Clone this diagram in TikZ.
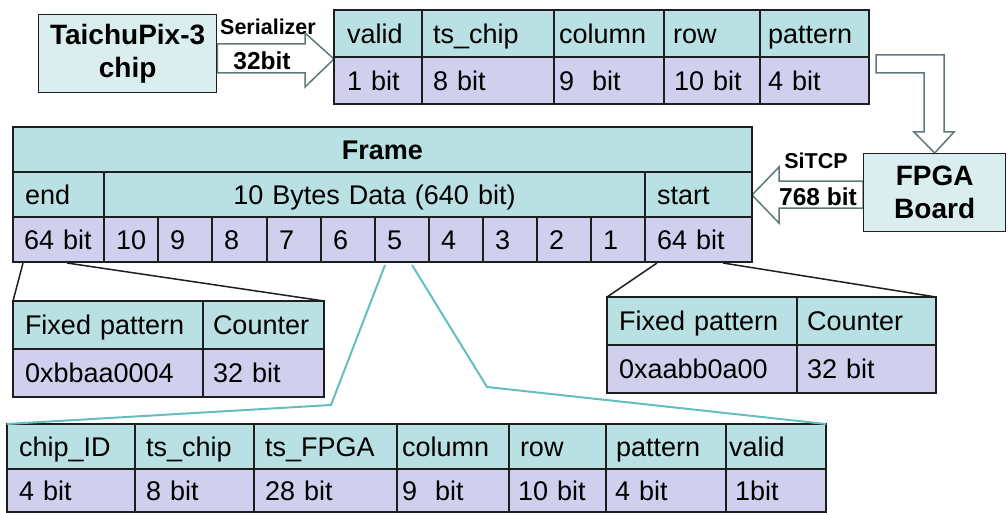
\documentclass[tikz,border=0pt]{standalone}
\usepackage{fontspec}
\setmainfont{Liberation Sans}
\usetikzlibrary{calc,backgrounds}
\definecolor{hdr}{RGB}{185,224,226}
\definecolor{lav}{RGB}{208,208,238}
\definecolor{boxfill}{RGB}{218,238,240}
\definecolor{arrowgray}{RGB}{95,120,120}
\definecolor{tealline}{RGB}{100,190,192}
\definecolor{bord}{RGB}{30,30,30}
\newcommand\cellfont{\fontsize{27}{31}\selectfont}
\newcommand\tcell[8]{%
  \pgfmathsetmacro\cellw{#4-#2}%
  \pgfmathsetmacro\cellh{#5-#3}%
  \pgfmathsetmacro\celltw{#4-#2-2*#7}%
  \node[cellbox, #6, minimum width=\cellw pt, minimum height=\cellh pt,
        text width=\celltw pt, inner xsep=#7pt] (#1) at (#2,#3) {#8};}
\begin{document}
\begin{tikzpicture}[x=1pt,y=-1pt,
  cellbox/.style={draw=bord, line width=1.3pt, anchor=north west, inner ysep=0pt,
     outer sep=0pt, align=left, font=\cellfont, text height=24pt, text depth=4.6pt},
  hd/.style={fill=hdr},
  lv/.style={fill=lav},
  bigbox/.style={draw=bord, line width=1.3pt, fill=boxfill, anchor=north west,
     align=center, inner sep=0pt, font=\fontsize{28}{33}\selectfont\bfseries},
  blockarr/.style={draw=arrowgray, line width=1.5pt, fill=white, line join=miter},
  lbl/.style={anchor=base, inner sep=0pt, font=\fontsize{21.5}{24}\selectfont\bfseries},
  lblb/.style={anchor=base, inner sep=0pt, font=\fontsize{24.5}{28}\selectfont\bfseries},
  zoomline/.style={draw=bord, line width=1.5pt},
  tealzoom/.style={draw=tealline, line width=2pt}]
\useasboundingbox (0,0) rectangle (1008,513);

% boxes
\node[bigbox, minimum width=178pt, minimum height=78pt] (chip) at (38,14) {TaichuPix-3\\chip};
\node[bigbox, minimum width=142pt, minimum height=78pt] (fpga) at (863,153) {FPGA\\Board};

% top table
\tcell{tv}{334}{10}{422}{57}{hd}{13}{valid}
\tcell{tts}{422}{10}{554}{57}{hd}{11}{ts\_chip}
\tcell{tcol}{554}{10}{664}{57}{hd}{5}{column}
\tcell{trow}{664}{10}{760}{57}{hd}{9}{row}
\tcell{tpat}{760}{10}{869}{57}{hd}{8}{pattern}
\tcell{tv1}{334}{57}{422}{104}{lv}{13}{1~bit}
\tcell{tts1}{422}{57}{554}{104}{lv}{11}{8~bit}
\tcell{tcol1}{554}{57}{664}{104}{lv}{5}{9\ \ bit}
\tcell{trow1}{664}{57}{760}{104}{lv}{10}{10~bit}
\tcell{tpat1}{760}{57}{869}{104}{lv}{8}{4~bit}

% frame table
\tcell{fr}{13}{127}{752}{172}{hd,align=center,font=\cellfont\bfseries}{12}{Frame}
\tcell{endh}{13}{172}{104}{217}{hd}{12}{end}
\tcell{data}{104}{172}{645}{217}{hd,align=center}{12}{10 Bytes Data (640 bit)}
\tcell{starth}{645}{172}{752}{217}{hd}{12}{start}
\tcell{e64}{13}{217}{104}{262}{lv}{11}{64~bit}
\tcell{d10}{104}{217}{158}{262}{lv}{12}{10}
\tcell{d9}{158}{217}{212}{262}{lv}{12}{9}
\tcell{d8}{212}{217}{267}{262}{lv}{12}{8}
\tcell{d7}{267}{217}{321}{262}{lv}{12}{7}
\tcell{d6}{321}{217}{375}{262}{lv}{12}{6}
\tcell{d5}{375}{217}{429}{262}{lv}{12}{5}
\tcell{d4}{429}{217}{483}{262}{lv}{12}{4}
\tcell{d3}{483}{217}{537}{262}{lv}{12}{3}
\tcell{d2}{537}{217}{591}{262}{lv}{12}{2}
\tcell{d1}{591}{217}{645}{262}{lv}{12}{1}
\tcell{s64}{645}{217}{752}{262}{lv}{12}{64~bit}

% left sub-table
\tcell{lfp}{13}{301}{203}{349}{hd}{12}{Fixed pattern}
\tcell{lct}{203}{301}{324}{349}{hd}{10}{Counter}
\tcell{lfv}{13}{349}{203}{397}{lv}{12}{0xbbaa0004}
\tcell{lcv}{203}{349}{324}{397}{lv}{10}{32~bit}

% right sub-table
\tcell{rfp}{607}{297}{797}{345}{hd}{12}{Fixed pattern}
\tcell{rct}{797}{297}{936}{345}{hd}{10}{Counter}
\tcell{rfv}{607}{345}{797}{393}{lv}{12}{0xaabb0a00}
\tcell{rcv}{797}{345}{936}{393}{lv}{10}{32~bit}

% bottom table
\tcell{b1}{7}{424}{135}{469}{hd}{12}{chip\_ID}
\tcell{b2}{135}{424}{254}{469}{hd}{11}{ts\_chip}
\tcell{b3}{254}{424}{397}{469}{hd}{11}{ts\_FPGA}
\tcell{b4}{397}{424}{509}{469}{hd}{5}{column}
\tcell{b5}{509}{424}{606}{469}{hd}{11}{row}
\tcell{b6}{606}{424}{726}{469}{hd}{10}{pattern}
\tcell{b7}{726}{424}{826}{469}{hd}{3}{valid}
\tcell{b1v}{7}{469}{135}{512}{lv}{12}{4~bit}
\tcell{b2v}{135}{469}{254}{512}{lv}{11}{8~bit}
\tcell{b3v}{254}{469}{397}{512}{lv}{11}{28~bit}
\tcell{b4v}{397}{469}{509}{512}{lv}{5}{9\ \ bit}
\tcell{b5v}{509}{469}{606}{512}{lv}{9}{10~bit}
\tcell{b6v}{606}{469}{726}{512}{lv}{9}{4~bit}
\tcell{b7v}{726}{469}{826}{512}{lv}{9}{1bit}

% labels on arrows
\node[lbl] (serl) at (268,35) {Serializer};
\node[lblb] (serb) at (262,70) {32bit};
\node[lbl] (sitl) at (816,168) {SiTCP};
\node[lblb] (sitb) at (818,205) {768 bit};

% block arrows
\begin{scope}[on background layer]
\draw[blockarr] (chip.east |- 0,44) -- (305,44) -- (305,33) -- (tv.west |- 0,59)
   -- (305,87) -- (305,73) -- (chip.east |- 0,73) -- cycle;
\draw[blockarr] (876,55) -- (944,55) -- (944,132) -- (954,132) -- (fpga.north)
   -- (914,132) -- (924,132) -- (924,73) -- (876,73) -- cycle;
\draw[blockarr] (fpga.west |- 0,181) -- (779,181) -- (779,167) -- (starth.east |- 0,195)
   -- (779,223) -- (779,208) -- (fpga.west |- 0,208) -- cycle;
\end{scope}

% zoom lines
\draw[zoomline] ([xshift=10pt,yshift=-1pt]e64.south west) -- (lfp.north west);
\draw[zoomline] ([xshift=54pt,yshift=-1pt]e64.south west) -- (lct.north east);
\draw[zoomline] ([xshift=12pt,yshift=-1pt]s64.south west) -- (rfp.north west);
\draw[zoomline] ([xshift=78pt,yshift=-1pt]s64.south west) -- (rct.north east);
\draw[tealzoom] ([xshift=10pt,yshift=-3pt]d5.south west) -- (331,405) -- (b1.north west);
\draw[tealzoom] ([xshift=37pt,yshift=-3pt]d5.south west) -- (487,387) -- (b7.north east);
\end{tikzpicture}
\end{document}
